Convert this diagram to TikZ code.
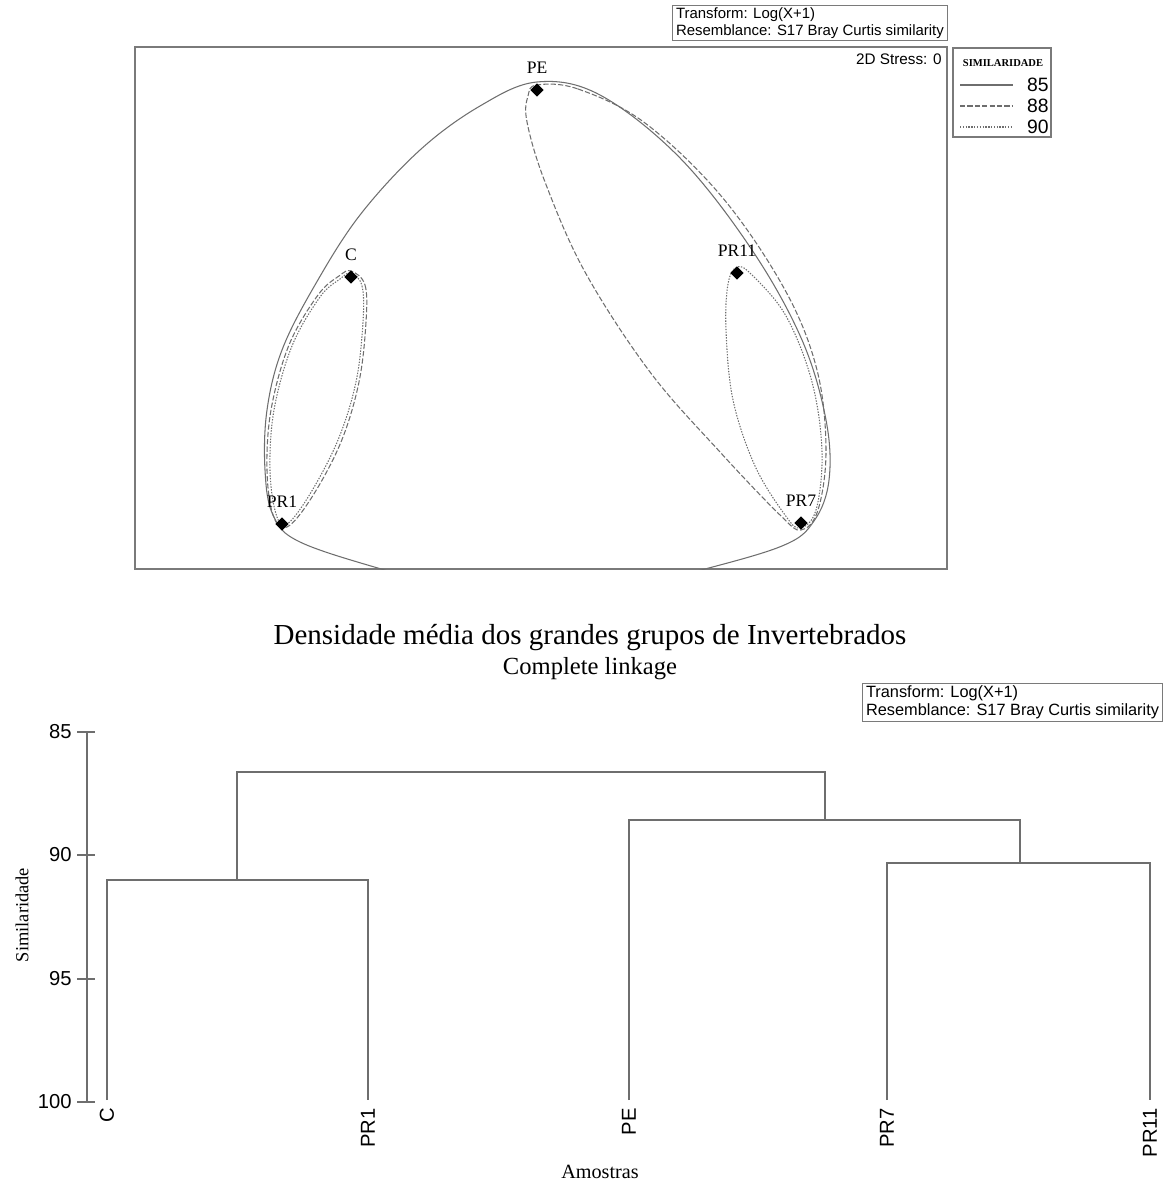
\documentclass[tikz,border=0pt]{standalone}
\usepackage{fontspec}
\setmainfont{Liberation Serif}
\setsansfont{Liberation Sans}
\usetikzlibrary{shapes.geometric,positioning}
\definecolor{cline}{HTML}{6E6E6E}
\definecolor{cframe}{HTML}{7A7A7A}

\begin{document}
\begin{tikzpicture}[x=0.02cm, y=-0.02cm,
    frame/.style={draw=cframe, line width=0.8pt},
    infobox/.style={draw=cframe, line width=0.6pt, align=left, anchor=north west,
                    inner xsep=2pt, inner ysep=1.2pt},
    sample/.style={diamond, fill=black, inner sep=0pt, minimum size=0.27cm},
    samplelabel/.style={font=\fontsize{10}{12}\selectfont, inner sep=0pt},
    hull85/.style={draw=cline, line width=0.6pt},
    hull88/.style={draw=cline, line width=0.6pt, dash pattern=on 3pt off 1.2pt},
    hull90/.style={draw=cline, line width=0.6pt, dash pattern=on 0.8pt off 0.8pt},
    branch/.style={draw=cline, line width=0.9pt},
    leaf/.style={font=\sffamily\fontsize{11.5}{12}\selectfont, rotate=90, anchor=east, inner sep=0pt},
    axislabel/.style={font=\sffamily\fontsize{11.5}{12}\selectfont, anchor=east, inner sep=0pt},
]
\useasboundingbox (0,0) rectangle (1173,1185);

% ---------- MDS plot ----------
\node[infobox, font=\sffamily\fontsize{8.5}{9.6}\selectfont] (mdsinfo) at (672,5)
    {Transform: Log(X+1)\\Resemblance: S17 Bray Curtis similarity};

\coordinate (fsw) at (135,569);
\coordinate (fne) at (947,47);
\draw[frame] (fsw) rectangle (fne);
\node[font=\sffamily\fontsize{8.7}{10}\selectfont, anchor=east, inner sep=0pt] (stress) at (942,59) {2D Stress: 0};

% legend
\draw[frame, line width=0.6pt] (953,48) rectangle (1051,137);
\node[font=\fontsize{6}{7}\selectfont\bfseries, inner sep=0pt] (legtitle) at (1003,63) {SIMILARIDADE};
\foreach \lv/\ly/\ls in {85/85/hull85, 88/106/hull88, 90/127/hull90} {
  \coordinate (leg\lv a) at (960,\ly);
  \coordinate (leg\lv b) at (1013,\ly);
  \draw[\ls] (leg\lv a) -- (leg\lv b);
  \node[font=\sffamily\fontsize{11}{12}\selectfont, anchor=east, inner sep=0pt] (leg\lv) at (1049,\ly) {\lv};
}

% contours
\begin{scope}
\clip (fsw) rectangle (fne);
% 85
\draw[hull85] plot[smooth cycle, tension=0.6] coordinates {
  (537,82) (600,95) (680,158) (752,250) (802,340) (826,420) (829,480) (814,521)
  (782,546) (690,573) (600,595) (480,595) (388,571) (300,542) (273,515) (265,470)
  (267,410) (282,350) (315,285) (360,215) (420,150) (480,106)};
\end{scope}
% 88
\draw[hull88] plot[smooth cycle, tension=0.6] coordinates {
  (537,85) (578,89) (645,123) (722,197) (785,290) (817,370) (826,450) (818,510)
  (801,530) (780,515) (720,452) (650,372) (585,272) (545,182) (527,122) (528,96)};
\draw[hull88] plot[smooth cycle, tension=0.6] coordinates {
  (351,271) (365,285) (366,322) (359,382) (341,442) (312,497) (287,527) (273,515)
  (267,470) (271,410) (289,345) (318,295) (339,276)};
% 90
\draw[hull90] plot[smooth cycle, tension=0.6] coordinates {
  (351,273) (362,286) (363,322) (356,382) (338,440) (310,494) (287,524) (276,514)
  (270,470) (274,410) (292,346) (320,297) (340,279)};
\draw[hull90] plot[smooth cycle, tension=0.6] coordinates {
  (737,267) (752,275) (786,316) (812,382) (822,452) (816,510) (800,528) (785,515)
  (755,466) (733,400) (726,330) (728,284)};

% samples
\node[sample] (sPE)   at (537,90)  {};
\node[sample] (sC)    at (351,277) {};
\node[sample] (sPR11) at (737,273) {};
\node[sample] (sPR1)  at (282,524) {};
\node[sample] (sPR7)  at (801,523) {};
\node[samplelabel, above=5pt of sPE]   (nPE)   {PE};
\node[samplelabel, above=5pt of sC]    (nC)    {C};
\node[samplelabel, above=5pt of sPR11] (nPR11) {PR11};
\node[samplelabel, above=5pt of sPR1]  (nPR1)  {PR1};
\node[samplelabel, above=5pt of sPR7]  (nPR7)  {PR7};

% ---------- dendrogram ----------
\node[font=\fontsize{16.5}{18}\selectfont] (title) at (590,638)
    {Densidade média dos grandes grupos de Invertebrados};
\node[font=\fontsize{14}{16}\selectfont] (subtitle) at (590,669) {Complete linkage};

\node[infobox, font=\sffamily\fontsize{9.3}{10.5}\selectfont] (dendinfo) at (862,683)
    {Transform: Log(X+1)\\Resemblance: S17 Bray Curtis similarity};

% axis
\coordinate (ax85) at (87,732);
\coordinate (ax100) at (87,1102);
\draw[branch] (ax85) -- (ax100);
\foreach \v/\yy in {85/732, 90/855, 95/979, 100/1102} {
  \draw[branch] (77,\yy) -- (95,\yy);
  \node[axislabel] (y\v) at (72,\yy) {\v};
}
\node[font=\fontsize{10.5}{12}\selectfont, rotate=90] (ylab) at (22,915) {Similaridade};
\node[font=\fontsize{11.5}{13}\selectfont] (xlab) at (600,1172) {Amostras};

% leaves
\foreach \nm/\xx in {C/107, PR1/368, PE/629, PR7/887, PR11/1150} {
  \coordinate (t\nm) at (\xx,1100);
  \node[leaf] (l\nm) at (\xx,1108) {\nm};
}

% merges
\coordinate (mA) at (237,880);
\coordinate (mB) at (1020,863);
\coordinate (mC) at (825,820);
\coordinate (mD) at (531,772);
\draw[branch] (tC) |- (mA) -| (tPR1);
\draw[branch] (tPR7) |- (mB) -| (tPR11);
\draw[branch] (tPE) |- (mC) -| (mB);
\draw[branch] (mA) |- (mD) -| (mC);

\end{tikzpicture}
\end{document}
